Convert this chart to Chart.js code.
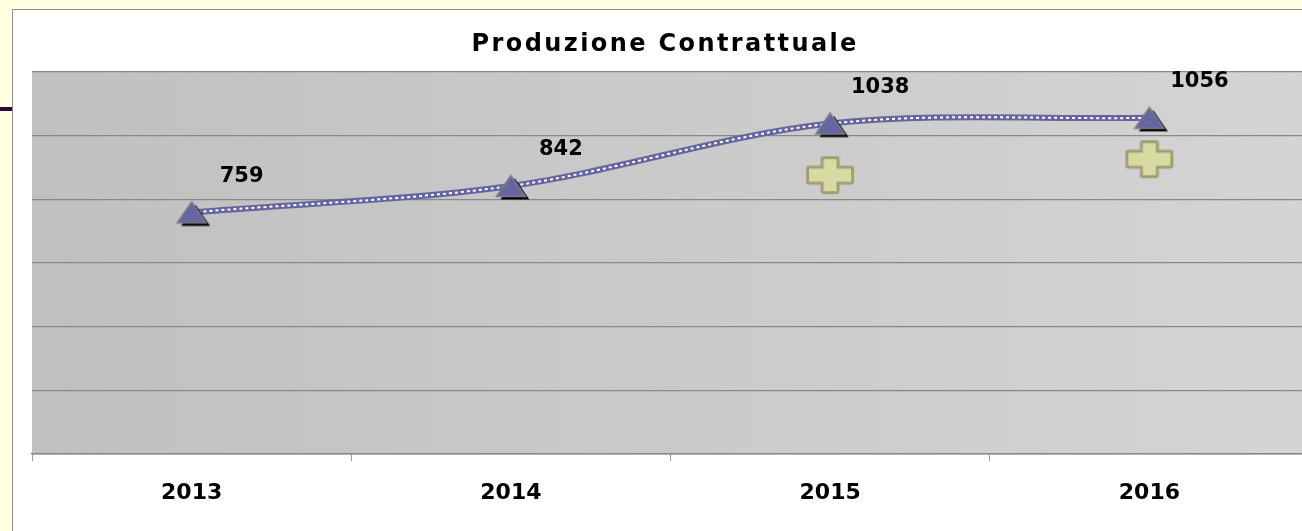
<!DOCTYPE html>
<html>
<head>
<meta charset="utf-8">
<title>Produzione Contrattuale</title>
<script src="https://cdn.jsdelivr.net/npm/chart.js@4.4.0/dist/chart.umd.min.js"></script>
<style>
    html, body { margin: 0; padding: 0; width: 1302px; height: 531px; overflow: hidden; background: #fffee0; }
    #frame { position: absolute; left: 12px; top: 9px; width: 1320px; height: 540px; background: #fff; border: 1px solid #8e8e8e; }
    #accent { position: absolute; left: 0; top: 107px; width: 12px; height: 4px; background: #330033; }
    #wrap { position: absolute; left: 13px; top: 10px; width: 1310px; height: 521px; }
</style>
</head>
<body>
<div id="accent"></div>
<div id="frame"></div>
<div id="wrap"><canvas id="chart" width="1310" height="521"></canvas></div>
<script>
// Chart data
const chartTitle = 'Produzione Contrattuale';
const years = ['2013', '2014', '2015', '2016'];
const production = [759, 842, 1038, 1056];
const target = [null, null, 876, 926];
const yTicks = [0, 200, 400, 600, 800, 1000, 1200];

const FONT = "'DejaVu Sans', Verdana, sans-serif";

/**
 * Marker sprites (triangle with drop shadow, rounded plus)
 */
function makeTriangle() {
    const c = document.createElement('canvas');
    c.width = 40;
    c.height = 32;
    const g = c.getContext('2d');
    const cx = 20, cy = 16, w = 29, h = 21;
    const tri = (dx, dy) => {
        g.beginPath();
        g.moveTo(cx + dx, cy - h / 2 + dy);
        g.lineTo(cx + w / 2 + dx, cy + h / 2 + dy);
        g.lineTo(cx - w / 2 + dx, cy + h / 2 + dy);
        g.closePath();
    };
    tri(4, 3);
    g.fillStyle = '#000';
    g.fill();
    tri(0, 0);
    g.fillStyle = '#6565a2';
    g.fill();
    g.strokeStyle = '#7e7e86';
    g.lineWidth = 1.5;
    g.stroke();
    return c;
}

function makePlus() {
    const c = document.createElement('canvas');
    c.width = 56;
    c.height = 46;
    const g = c.getContext('2d');
    const cx = 28, cy = 23, hx = 21, hy = 16, t = 6.5;
    g.beginPath();
    g.moveTo(cx - t, cy - hy);
    g.lineTo(cx + t, cy - hy);
    g.lineTo(cx + t, cy - t);
    g.lineTo(cx + hx, cy - t);
    g.lineTo(cx + hx, cy + t);
    g.lineTo(cx + t, cy + t);
    g.lineTo(cx + t, cy + hy);
    g.lineTo(cx - t, cy + hy);
    g.lineTo(cx - t, cy + t);
    g.lineTo(cx - hx, cy + t);
    g.lineTo(cx - hx, cy - t);
    g.lineTo(cx - t, cy - t);
    g.closePath();
    g.lineJoin = 'round';
    g.lineWidth = 6;
    g.strokeStyle = '#a0a074';
    g.stroke();
    g.fillStyle = '#d9d9a4';
    g.fill();
    return c;
}

// Plot area gradient background
const plotBackground = {
    id: 'plotBackground',
    beforeDraw(chart) {
        const { ctx, chartArea: a } = chart;
        const grad = ctx.createLinearGradient(a.left, 0, a.right, 0);
        grad.addColorStop(0, '#c0c0c0');
        grad.addColorStop(1, '#d4d4d4');
        ctx.save();
        ctx.fillStyle = grad;
        ctx.fillRect(a.left, a.top, a.right - a.left, a.bottom - a.top);
        ctx.restore();
    }
};

// Title with a little letter spacing (the built-in title has no spacing option)
const spacedTitle = {
    id: 'spacedTitle',
    afterDraw(chart) {
        const { ctx } = chart;
        const spacing = 2.4;
        ctx.save();
        ctx.font = `bold 24px ${FONT}`;
        ctx.fillStyle = '#000';
        ctx.textAlign = 'center';
        ctx.textBaseline = 'alphabetic';
        ctx.letterSpacing = spacing + 'px';
        ctx.fillText(chartTitle, chart.width / 2 - 4 + spacing / 2, 41);
        ctx.restore();
    }
};

// Value labels, placed up and to the right of each triangle
const valueLabels = {
    id: 'valueLabels',
    afterDatasetsDraw(chart) {
        const meta = chart.getDatasetMeta(2);
        const { ctx } = chart;
        ctx.save();
        ctx.font = `bold 21px ${FONT}`;
        ctx.fillStyle = '#000';
        ctx.textAlign = 'center';
        ctx.textBaseline = 'middle';
        meta.data.forEach((pt, i) => {
            ctx.fillText(String(production[i]), pt.x + 50, pt.y - 36);
        });
        ctx.restore();
    }
};

const triangle = makeTriangle();
const plus = makePlus();

new Chart(document.getElementById('chart'), {
    type: 'line',
    data: {
        labels: years,
        datasets: [
            {
                data: production,
                borderColor: '#64649e',
                borderWidth: 6,
                tension: 0.33,
                pointRadius: 0,
                order: 4
            },
            {
                data: production,
                borderColor: '#ffffff',
                borderWidth: 2,
                borderDash: [3, 3],
                tension: 0.33,
                pointRadius: 0,
                order: 3
            },
            {
                data: production,
                showLine: false,
                pointStyle: triangle,
                order: 2
            },
            {
                data: target,
                showLine: false,
                pointStyle: plus,
                order: 1
            }
        ]
    },
    options: {
        responsive: false,
        animation: false,
        layout: { padding: { left: 19, right: 14, top: 62, bottom: 0 } },
        plugins: {
            legend: { display: false },
            tooltip: { enabled: false },
            title: { display: false }
        },
        scales: {
            x: {
                offset: true,
                grid: { offset: true, drawOnChartArea: false, tickLength: 7, color: '#9a9a9a' },
                border: { color: '#888888', width: 1.5 },
                ticks: { color: '#000', padding: 19, font: { family: FONT, size: 22, weight: 'bold' } },
                afterFit(scale) { scale.height = 77; }
            },
            y: {
                min: yTicks[0],
                max: yTicks[yTicks.length - 1],
                afterBuildTicks(scale) { scale.ticks = yTicks.map(v => ({ value: v })); },
                grid: { color: '#888888', lineWidth: 1.3, drawTicks: false },
                border: { display: false },
                ticks: { display: false },
                afterFit(scale) { scale.width = 0; }
            }
        }
    },
    plugins: [plotBackground, valueLabels, spacedTitle]
});
</script>
</body>
</html>
